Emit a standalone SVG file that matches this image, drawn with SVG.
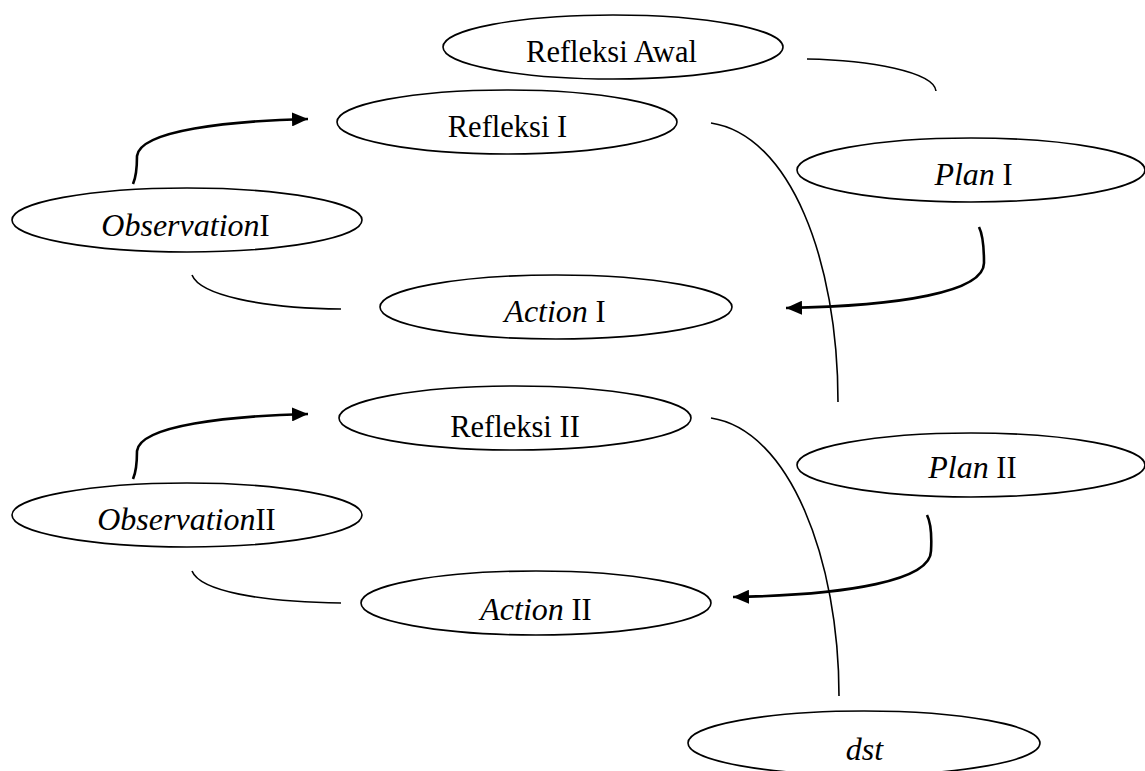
<svg xmlns="http://www.w3.org/2000/svg" width="1145" height="771" viewBox="0 0 1145 771">
<style>
.n{fill:#fff;stroke:#000;stroke-width:1.6}
.t{font-family:'Liberation Serif','Times New Roman',serif;font-size:30.5px;fill:#000;text-anchor:middle}
.i{font-style:italic;font-size:32px}
.c{fill:none;stroke:#000;stroke-width:1.6}
.a{fill:none;stroke:#000;stroke-width:2.6;marker-end:url(#ah)}
</style>
<defs>
<marker id="ah" markerUnits="userSpaceOnUse" markerWidth="18" markerHeight="14" refX="16" refY="7" orient="auto">
<path d="M0,0 L16,7 L0,14 Z" fill="#000"/>
</marker>
</defs>
<rect width="1145" height="771" fill="#fff"/>
<g id="connectors">
<path class="c" d="M807,59 C870,60 934,72 936,91"/>
<path class="a" d="M979,227 C983,235 984,245 984,263 C984,292 900,306 786,308"/>
<path class="c" d="M711,123 C790,135 838,260 838,402"/>
<path class="a" d="M133,184 C137,175 137,165 137,156 C140,130 230,121 308,119"/>
<path class="c" d="M192,275 C200,295 260,308 341,309"/>
<path class="a" d="M133,479 C137,470 137,460 137,451 C140,425 230,416 308,414"/>
<path class="c" d="M192,571 C200,591 260,602 341,603"/>
<path class="a" d="M927,515 C931,523 932,533 931,551 C931,580 850,595 733,597"/>
<path class="c" d="M711,418 C790,430 839,560 839,696"/>
</g>
<g id="refleksi-awal"><ellipse class="n" cx="613" cy="47" rx="170" ry="32"/><text class="t" x="611.5" y="62">Refleksi Awal</text></g>
<g id="refleksi-1"><ellipse class="n" cx="507" cy="122" rx="170" ry="32"/><text class="t" x="507.5" y="137">Refleksi I</text></g>
<g id="plan-1"><ellipse class="n" cx="971" cy="170" rx="174" ry="32"/><text class="t" x="973.5" y="185"><tspan class="i">Plan</tspan> I</text></g>
<g id="observation-1"><ellipse class="n" cx="187" cy="220" rx="175" ry="32"/><text class="t" x="185.5" y="236"><tspan class="i">Observation</tspan>I</text></g>
<g id="action-1"><ellipse class="n" cx="556" cy="307" rx="176" ry="32"/><text class="t" x="555" y="322"><tspan class="i">Action</tspan> I</text></g>
<g id="refleksi-2"><ellipse class="n" cx="515" cy="418" rx="176" ry="32"/><text class="t" x="515" y="437">Refleksi II</text></g>
<g id="plan-2"><ellipse class="n" cx="971" cy="465" rx="174" ry="32"/><text class="t" x="972.5" y="478"><tspan class="i">Plan</tspan> II</text></g>
<g id="observation-2"><ellipse class="n" cx="187" cy="515" rx="175" ry="32"/><text class="t" x="186.5" y="530"><tspan class="i">Observation</tspan>II</text></g>
<g id="action-2"><ellipse class="n" cx="536" cy="603" rx="175" ry="32"/><text class="t" x="536" y="620"><tspan class="i">Action</tspan> II</text></g>
<g id="dst"><ellipse class="n" cx="864" cy="743" rx="176" ry="32"/><text class="t" x="864.5" y="760"><tspan class="i">dst</tspan></text></g>
</svg>
